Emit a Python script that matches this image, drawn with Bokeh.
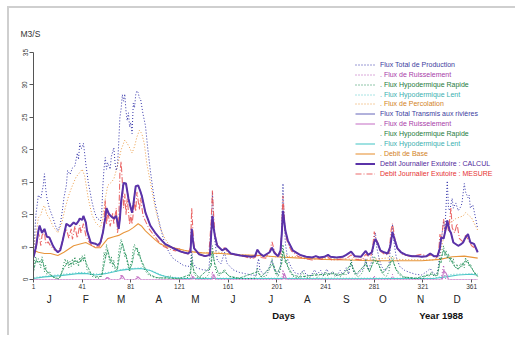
from bokeh.plotting import figure
from bokeh.models import (Range1d, LinearAxis, FixedTicker, Legend, LegendItem,
                          Title, ColumnDataSource)
from bokeh.embed import file_html
from bokeh.resources import INLINE

# ---------------- data (day of year, m3/s) ----------------
calcul = [(1,3.4),(3,5),(5,7.5),(6,8.3),(8,7.2),(10,7.8),(12,6.6),(14,6.5),(17,5.2),(19,4.6),(21,4.2),
          (23,4.5),(25,6),(28,8.6),(31,8.2),(33,8.6),(34,8.8),(36,8.5),(38,9.0),(39,9.4),(41,9.2),(42,9.8),
          (44,8.8),(45,7.5),(48,5.7),(50,5.6),(52,5.5),(54,5.3),(56,5.7),(58,7.2),(60,9.5),(61,11),(63,10.1),
          (65,9.7),(67,9.4),(69,9.8),(71,7.8),(72,9.4),(73,12),(75,14.9),(77,14.8),(79,12.5),(80,11.7),
          (82,10.3),(83,11.5),(85,14.4),(87,14.5),(89,13.5),(90,12.9),(93,10.3),(97,8.3),(101,7.2),(105,6.3),
          (109,5.5),(115,4.9),(122,4.3),(128,4.0),(130,4.3),(131,7.8),(132,6),(133,4.8),(137,3.9),(142,3.6),
          (146,3.8),(147,7),(148,9.8),(149,8),(150,6.8),(152,5.2),(156,4.5),(159,4.8),(163,4.0),(171,3.7),
          (180,3.5),(183,3.6),(185,4.6),(187,4.0),(190,3.6),(195,4.2),(197,4.9),(199,4.1),(202,3.6),(204,4.5),
          (205,7),(206,10.6),(207,9),(208,7.5),(210,6),(214,4.5),(220,3.8),(225,3.5),(230,3.4),(233,3.6),
          (236,3.4),(240,3.5),(243,3.8),(245,3.5),(250,3.4),(255,3.5),(258,3.8),(262,4.3),(265,3.6),(270,3.5),
          (274,4.4),(276,3.8),(279,4.2),(281,5.8),(282,6.2),(284,5.5),(286,4.5),(289,4.2),(292,4.0),(294,5),
          (296,7.3),(298,6),(300,4.8),(303,4.2),(307,3.8),(312,3.6),(317,3.6),(320,3.5),(324,3.6),(327,4.0),
          (330,3.6),(333,3.6),(335,4.9),(336,6.5),(338,6.3),(340,8.0),(341,9.1),(343,7.5),(344,7.2),(346,5.7),
          (350,5.2),(352,5.4),(354,5.7),(356,6.5),(358,7.0),(360,5.7),(363,5.5),(366,4.2)]

mesure = [(1,3.6),(3,4.5),(5,7.2),(6,6.5),(7,5.2),(8,6.8),(10,7.4),(11,5.5),(13,5.8),(15,5.2),(18,4.6),
          (21,4.3),(24,5.2),(26,7),(28,7.8),(30,6.4),(32,7.8),(33,6.2),(35,8.2),(37,6.4),(39,8.4),(40,7.2),
          (42,8.6),(44,6.8),(46,6),(49,5.2),(52,5),(55,5.1),(57,6),(59,9),(60,12.2),(61,8.5),(62,10.5),(64,8.2),
          (66,10.2),(67,8.6),(69,11),(70,7.2),(71,8.5),(72,16.5),(73,18.2),(74,15),(75,11),(76,13.2),(77,10),
          (78,12.5),(80,8.5),(81,10),(82,8.5),(84,12),(85,10.5),(86,13.5),(88,10.8),(89,12.6),(91,9.8),(93,9),
          (96,7.8),(100,6.8),(104,5.8),(108,5.1),(114,4.6),(118,4.4),(120,4.9),(123,4.2),(128,3.9),(130,5),
          (131,11),(132,7.5),(133,5),(136,4.0),(141,3.6),(145,3.7),(147,9),(148,13.7),(149,10),(150,7),(152,5.4),
          (155,4.5),(158,4.9),(161,4.1),(167,3.8),(175,3.5),(180,3.2),(183,3.4),(185,3.9),(188,3.4),(192,3.3),
          (195,4.3),(197,5.8),(199,4.4),(202,3.4),(204,4),(205,8),(206,12.9),(207,10),(208,7),(210,5.5),
          (213,4.4),(218,3.6),(224,3.2),(230,3.0),(234,3.3),(238,3.1),(242,3.6),(246,3.0),(252,3.1),(258,3.2),
          (262,3.8),(266,3.1),(271,3.0),(274,3.9),(278,3.3),(280,5.5),(281,7.4),(282,6.5),(284,5.6),(286,4.4),
          (290,3.8),(293,3.9),(295,7.8),(296,8.6),(298,6.2),(300,4.8),(304,3.9),(310,3.6),(315,3.7),(320,3.9),
          (324,3.6),(328,3.8),(332,3.3),(334,4.5),(335,7),(336,5.8),(338,9.3),(339,7.5),(341,8.6),(342,7.5),
          (344,11),(345,8),(347,7.2),(349,8.6),(351,6.3),(354,5.8),(356,6.8),(358,6.2),(361,5.2),(364,4.8),(366,4.5)]

debit_base = [(1,4.5),(5,4.2),(10,4.0),(15,4.0),(21,3.7),(26,4.2),(30,4.7),(34,5.2),(40,5.5),(44,5.7),
              (48,5.3),(52,4.9),(56,4.9),(59,5.6),(62,6.3),(67,6.6),(71,6.8),(75,7.2),(79,7.5),(83,8.0),
              (87,8.6),(90,8.2),(93,7.5),(97,6.8),(101,6.1),(105,5.5),(110,5.1),(118,4.8),(125,4.5),(130,4.3),
              (140,4.1),(155,4.0),(170,3.8),(187,3.7),(200,3.5),(220,3.3),(240,3.1),(260,3.0),(280,2.9),
              (300,2.9),(320,2.9),(335,3.1),(345,3.5),(355,3.6),(366,3.3)]

percolation = [(1,4.5),(3,7),(5,9.5),(7,10),(9,11.2),(10,11.4),(12,10),(14,9.5),(17,8.2),(21,7.2),(24,8.5),
               (27,11),(30,13),(33,14.5),(36,15.8),(39,16.5),(41,17),(43,16),(46,12.5),(49,10),(52,8.8),
               (56,8.0),(58,9.5),(60,12.5),(62,14.5),(65,15),(67,15.5),(70,17.5),(73,20),(76,21.5),(78,21),
               (80,20.3),(82,19.5),(84,20.5),(86,22),(88,23),(90,22.5),(92,21),(94,18),(97,15),(101,11),
               (105,8),(109,6.3),(113,5.2),(120,4.6),(130,4.3),(140,4.1),(150,4.3),(160,4.0),(180,3.7),
               (200,3.5),(206,4),(210,3.6),(240,3.2),(280,3.1),(296,3.4),(300,3.1),(330,3.0),(335,3.6),
               (338,6.5),(341,9),(344,8.8),(348,9.4),(351,9.6),(354,9.8),(356,10.3),(358,10),(361,9.5),
               (363,8.7),(366,7.6)]

production = [(1,4),(3,10),(5,13),(7,12.5),(9,14.5),(10,16.3),(11,14),(12,12.6),(14,11),(17,9.5),(19,8.3),
              (21,7.5),(23,8.5),(25,11),(26,12.6),(28,14.5),(29,16.8),(31,16.2),(33,17.2),(35,17.5),(36,18.5),
              (37,19.5),(38,18.5),(39,21),(40,20.2),(41,20.3),(42,21),(43,19.5),(44,17.8),(46,15),(49,12),
              (51,10.5),(53,9.5),(55,9.2),(56,9),(57,10),(58,14.5),(59,17.2),(60,18.8),(61,17),(62,18),(64,17),
              (65,19),(67,20.3),(68,18),(69,16.8),(70,17.5),(71,21),(72,25),(73,26.3),(74,28.5),(75,27.5),
              (76,28.6),(77,26),(78,24.5),(79,25.7),(80,23.5),(81,24.2),(82,22.5),(83,27.2),(84,26.5),(85,28.5),
              (86,29.1),(87,28.8),(88,28),(89,27.8),(91,25.5),(93,23.7),(95,20),(97,16.8),(99,14),(101,11.7),
              (103,10),(105,8.3),(107,6.8),(109,5.5),(111,4.7),(113,4),(116,3.2),(120,2.7),(124,2.2),(128,2.0),
              (130,2.2),(131,4.5),(132,2.5),(135,1.8),(140,1.5),(145,1.4),(147,6),(148,13.5),(149,9),(150,6),
              (152,3),(155,2.4),(158,4.2),(160,2.5),(165,1.5),(170,1.1),(175,0.9),(180,0.7),(184,0.6),(185,2.5),
              (186,3.2),(187,1.5),(190,0.8),(193,1.2),(195,2.0),(197,3.0),(199,1.5),(202,0.8),(204,2),(205,9),
              (206,14.8),(207,9),(208,5.5),(210,3),(213,1.8),(216,1),(220,0.8),(223,1.5),(225,0.7),(229,0.6),
              (232,1.5),(234,0.8),(237,1.4),(239,0.6),(242,1.6),(244,0.8),(247,1.2),(250,0.5),(253,1.4),
              (255,0.8),(258,1.8),(260,0.8),(262,3),(264,1.2),(267,0.8),(271,1.5),(273,2.2),(274,3.2),(276,1.5),
              (279,2.8),(281,6.5),(282,7.2),(283,5),(285,3.2),(287,2.0),(290,1.3),(293,2.0),(295,6.5),(296,8.5),
              (297,6),(299,3.5),(302,2),(306,1.4),(310,1.1),(315,0.8),(320,0.7),(324,1.2),(327,1.7),(330,0.8),
              (333,1.0),(335,4),(336,6),(338,9),(339,7.5),(341,15.2),(342,11),(343,10.6),(345,12.5),(346,11),
              (348,11.8),(350,10.6),(352,11.2),(353,11.7),(355,14.8),(356,13.5),(358,12.6),(359,13),(360,11),
              (362,11.5),(363,10.6),(365,8.8),(366,7.8)]

rapide_prod = [(1,1.5),(2,3),(3,3.5),(4,2.5),(5,3.2),(6,2.6),(7,1.8),(8,3.5),(9,2.8),(10,1.2),(11,2.2),(12,0.8),
               (14,1.3),(16,0.5),(18,0.3),(20,0.1),(22,0.0),(24,1),(26,2.5),(27,3.2),(28,2.2),(29,3),(30,1.8),
               (31,2.8),(32,2),(33,3.2),(34,2.2),(35,3.5),(36,2.4),(37,3),(38,2),(39,3.4),(40,2.6),(41,3.7),
               (42,2.8),(43,3.8),(44,2.5),(45,1.5),(47,1),(49,0.5),(52,0.3),(55,0.2),(57,0.6),(58,2),(59,4.2),
               (60,3.3),(61,5.4),(62,4.2),(63,3.3),(64,2.4),(65,3.5),(66,2),(67,3),(68,1.5),(69,1.2),(70,2),
               (71,4.2),(72,5.3),(73,6.2),(74,5.5),(75,4.6),(76,3.5),(77,4),(78,2.6),(79,1.8),(80,1.2),(81,2.5),
               (82,3.2),(83,4.8),(84,5.4),(85,4.6),(86,5.0),(87,3.6),(88,4.2),(89,3),(90,2.6),(91,2),(93,1.3),
               (95,0.8),(98,0.5),(101,0.3),(105,0.2),(110,0.3),(113,0.6),(116,0.2),(120,0.1),(125,0.1),(129,0.4),
               (130,1.5),(131,3.8),(132,2),(133,0.8),(136,0.3),(142,0.2),(145,0.8),(147,3),(148,5.2),(149,3.5),
               (150,2),(151,1.2),(153,0.5),(156,1),(158,1.6),(160,0.8),(163,0.4),(168,0.2),(175,0.1),(183,0.2),
               (184,0.8),(185,1.8),(186,1.2),(188,0.4),(192,0.5),(195,1.6),(196,2.5),(197,3.2),(198,2.0),
               (200,0.8),(202,0.4),(204,1.5),(205,3.5),(206,5.4),(207,3.5),(208,2.5),(209,3),(210,1.8),(212,1.0),
               (215,0.4),(218,0.2),(220,0.5),(222,1.2),(224,0.4),(227,0.2),(230,0.6),(232,1.0),(234,0.3),
               (237,0.9),(239,0.5),(241,1.2),(243,0.5),(245,0.9),(247,1.2),(249,0.4),(251,0.8),(253,0.4),
               (255,1.0),(257,0.6),(259,1.0),(261,2.0),(262,3.0),(263,1.8),(265,0.8),(268,0.4),(271,1.0),
               (273,2.0),(274,3.0),(275,2.2),(277,1.2),(279,2.2),(281,3.6),(282,3.2),(283,2.4),(284,3),(286,1.5),
               (288,0.8),(291,0.5),(293,1.2),(295,3.2),(296,3.6),(297,2.6),(299,1.5),(301,0.8),(304,0.4),
               (308,0.3),(312,0.2),(318,0.1),(322,0.2),(324,0.8),(326,0.5),(328,1.2),(330,0.5),(332,0.6),
               (334,1.8),(335,3.4),(336,2.5),(337,4.2),(338,5.2),(339,3.6),(340,4.5),(341,3.2),(342,4.0),
               (343,2.8),(344,3.5),(345,2.6),(346,3.2),(347,2),(348,1.8),(349,2.4),(350,1.5),(352,2.5),(353,2),
               (354,2.6),(355,1.8),(356,3.4),(357,2.6),(358,3.0),(359,2.0),(360,2.4),(362,1.4),(364,0.8),(366,0.4)]

rapide_trans = [(1,1.2),(3,3.0),(5,2.6),(8,3.0),(10,1.8),(13,1.0),(17,0.4),(22,0.1),(26,1.8),(29,2.6),
                (32,2.4),(35,2.9),(38,2.6),(41,3.2),(43,3.3),(45,2.2),(48,1.0),(52,0.4),(57,0.5),(60,3.2),
                (62,4.6),(64,3.0),(66,2.6),(68,2.0),(70,1.6),(72,4.0),(74,5.6),(76,4.2),(78,3.0),(80,1.6),
                (82,2.4),(84,4.4),(86,4.8),(88,3.8),(90,2.8),(93,1.6),(97,0.7),(102,0.3),(110,0.2),(120,0.1),
                (130,0.8),(131,2.8),(133,1.2),(137,0.3),(147,2.0),(148,4.2),(150,2.4),(153,0.9),(158,1.2),
                (162,0.5),(170,0.2),(185,1.2),(188,0.4),(196,2.0),(198,2.4),(201,0.8),(205,2.5),(206,4.5),
                (208,3.0),(210,2.0),(214,0.7),(220,0.4),(232,0.7),(241,0.8),(247,0.9),(255,0.7),(262,2.4),
                (266,0.8),(274,2.4),(277,1.2),(281,3.0),(284,2.5),(288,1.0),(296,3.0),(299,1.5),(305,0.4),
                (315,0.2),(328,0.8),(333,0.6),(335,2.8),(338,4.5),(340,3.8),(342,3.5),(344,3.0),(347,2.0),
                (350,1.6),(353,2.2),(356,2.9),(358,2.6),(360,2.0),(363,1.2),(366,0.5)]

lent_trans = [(1,0.15),(10,0.4),(23,0.6),(39,0.95),(45,0.9),(52,0.7),(60,0.9),(72,1.4),(80,1.6),(89,1.7),
              (97,1.4),(105,0.7),(113,0.3),(125,0.15),(150,0.15),(200,0.15),(250,0.1),(300,0.15),(330,0.15),
              (340,0.4),(350,0.7),(360,0.8),(366,0.7)]

lent_prod = [(1,0.3),(20,0.7),(40,1.1),(55,0.8),(75,1.6),(90,1.8),(100,1.2),(110,0.4),(130,0.2),(330,0.2),
             (345,0.8),(366,0.9)]

ruissel_prod = [(1,0),(60,0),(61,0.4),(62,0),(72,0),(73,0.8),(74,0),(85,0),(86,0.5),(87,0),(130,0),(131,0.8),
                (132,0),(147,0),(148,1.2),(149,0),(205,0),(206,1.5),(207,0),(280,0),(281,0.6),(282,0),(295,0),
                (296,0.8),(297,0),(336,0),(337,1.2),(338,2.2),(339,0.4),(340,0),(366,0)]

ruissel_trans = [(1,0),(60,0),(62,0.3),(64,0),(72,0),(74,0.6),(76,0),(85,0),(87,0.4),(89,0),(131,0),
                 (132,0.5),(134,0),(148,0),(149,0.8),(151,0),(206,0),(207,1.0),(209,0),(337,0),(338,1.4),
                 (340,1.0),(342,0),(366,0)]

day_ticks = [1, 41, 81, 121, 161, 201, 241, 281, 321, 361]
month_pos = [14, 44, 73, 104, 134, 165, 196, 226, 258, 288, 319, 349]
month_labels = ["J", "F", "M", "A", "M", "J", "J", "A", "S", "O", "N", "D"]
footer_pos = [206.5, 336]
footer_labels = ["Days", "Year 1988"]
y_ticks = [0, 5, 10, 15, 20, 25, 30, 35]

legend_labels = ["Flux Total de Production", ". Flux de Ruisselement", ". Flux Hypodermique Rapide",
                 ". Flux Hypodermique Lent", ". Flux de Percolation", "Flux Total Transmis aux rivières",
                 ". Flux de Ruisselement", ". Flux Hypodermique Rapide", ". Flux Hypodermique Lent",
                 ". Debit de Base", "Debit Journalier Exutoire : CALCUL", "Debit Journalier Exutoire : MESURE"]

# ---------------- figure ----------------
FONT = "Liberation Sans"
p = figure(width=508, height=329, output_backend="svg", toolbar_location=None,
           x_range=Range1d(1, 398.7), y_range=Range1d(0, 35),
           min_border_left=24, min_border_right=0, min_border_top=44, min_border_bottom=58)
p.styles = {"margin-left": "9px", "margin-top": "8px", "box-shadow": "-2px -2px 0 0 #cfcfcf"}
p.outline_line_color = None
p.xgrid.visible = False
p.ygrid.visible = False
p.background_fill_color = "white"
p.border_fill_color = "white"

def src(pairs):
    return ColumnDataSource(dict(x=[a for a, b in pairs], y=[b for a, b in pairs]))

r_perc = p.line("x", "y", source=src(percolation), line_color="#eb9c46", line_width=1, line_dash="1 2")
r_prod = p.line("x", "y", source=src(production), line_color="#3232a8", line_width=1, line_dash="1 2")
r_base = p.line("x", "y", source=src(debit_base), line_color="#e8963c", line_width=1.1)
r_lentp = p.line("x", "y", source=src(lent_prod), line_color="#50c8c8", line_width=1, line_dash="1 2")
r_lent = p.line("x", "y", source=src(lent_trans), line_color="#50c8c8", line_width=1.1)
r_rapt = p.line("x", "y", source=src(rapide_trans), line_color="#3aa070", line_width=0.9, line_dash="3 1")
r_rap = p.line("x", "y", source=src(rapide_prod), line_color="#1e8a50", line_width=1, line_dash="1 2")
r_ruisp = p.line("x", "y", source=src(ruissel_prod), line_color="#b450b4", line_width=1, line_dash="1 2")
r_ruis = p.line("x", "y", source=src(ruissel_trans), line_color="#c878c8", line_width=1.1)
r_trans = p.line("x", "y", source=src(calcul), line_color="#6464b8", line_width=1)
r_mes = p.line("x", "y", source=src(mesure), line_color="#e85050", line_width=1.1,
               line_dash="6 2 1 2", line_alpha=0.85)
r_cal = p.line("x", "y", source=src(calcul), line_color="#5a32a8", line_width=2)
r_blank = p.line("x", "y", source=ColumnDataSource(dict(x=[], y=[])), line_color="#1e8a50", line_alpha=0)

# axes
xa = p.xaxis[0]
xa.ticker = FixedTicker(ticks=day_ticks)
xa.bounds = (1, 366)
xa.axis_line_color = None
xa.major_tick_out = 3
xa.major_tick_in = 0
xa.minor_tick_line_color = None
xa.major_tick_line_color = "#555555"
xa.major_label_text_font = FONT
xa.major_label_text_font_size = "6.5px"
xa.major_label_text_color = "#333333"
xa.major_label_standoff = 1

ya = p.yaxis[0]
ya.ticker = FixedTicker(ticks=y_ticks)
ya.bounds = (0, 35)
ya.axis_line_color = "#555555"
ya.major_tick_line_color = "#555555"
ya.major_tick_out = 4
ya.major_tick_in = 0
ya.minor_tick_line_color = None
ya.major_label_orientation = "vertical"
ya.major_label_text_font = FONT
ya.major_label_text_font_size = "6.5px"
ya.major_label_text_color = "#333333"
ya.major_label_standoff = 2

ma = LinearAxis(ticker=FixedTicker(ticks=month_pos),
                major_label_overrides={m: s for m, s in zip(month_pos, month_labels)})
ma.axis_line_color = None
ma.major_tick_line_color = None
ma.minor_tick_line_color = None
ma.major_tick_out = 0
ma.major_tick_in = 0
ma.major_label_text_font = FONT
ma.major_label_text_font_size = "10px"
ma.major_label_text_color = "#222222"
ma.major_label_standoff = 2
p.add_layout(ma, "below")

fa = LinearAxis(ticker=FixedTicker(ticks=footer_pos),
                major_label_overrides={m: s for m, s in zip(footer_pos, footer_labels)})
fa.axis_line_color = None
fa.major_tick_line_color = None
fa.minor_tick_line_color = None
fa.major_tick_out = 0
fa.major_tick_in = 0
fa.major_label_text_font = FONT
fa.major_label_text_font_size = "9.5px"
fa.major_label_text_font_style = "bold"
fa.major_label_text_color = "#111111"
fa.major_label_standoff = 2
p.add_layout(fa, "below")

p.add_layout(Title(text="M3/S", align="left", offset=-13, standoff=28, text_font=FONT,
                   text_font_size="8.5px", text_font_style="normal", text_color="#333333"), "above")

# legend: one Legend per row so each label can have its own colour
rows = [r_prod, r_ruisp, r_rap, r_lentp, r_perc, r_trans, r_ruis, r_blank, r_lent, r_base, r_cal, r_mes]
text_colors = ["#3c3ca0", "#a83ca8", "#1e7a3c", "#3cb0b0", "#d2821e", "#3c3ca0", "#a83ca8", "#1e7a3c",
               "#3cb0b0", "#d2821e", "#50289a", "#e63232"]
for i, (r, lab, tc) in enumerate(zip(rows, legend_labels, text_colors)):
    center = 64.3 + 9.9 * i
    vy = 279 - (center + 4.5)
    lg = Legend(items=[LegendItem(label=lab, renderers=[r])], location=(322, vy),
                padding=0, margin=0, spacing=0, border_line_color=None, background_fill_alpha=0,
                glyph_width=20, glyph_height=9, label_height=9, label_standoff=5,
                label_text_font=FONT, label_text_font_size="7px", label_text_color=tc)
    p.add_layout(lg, "center")

open("out.html", "w").write(file_html(p, INLINE))
